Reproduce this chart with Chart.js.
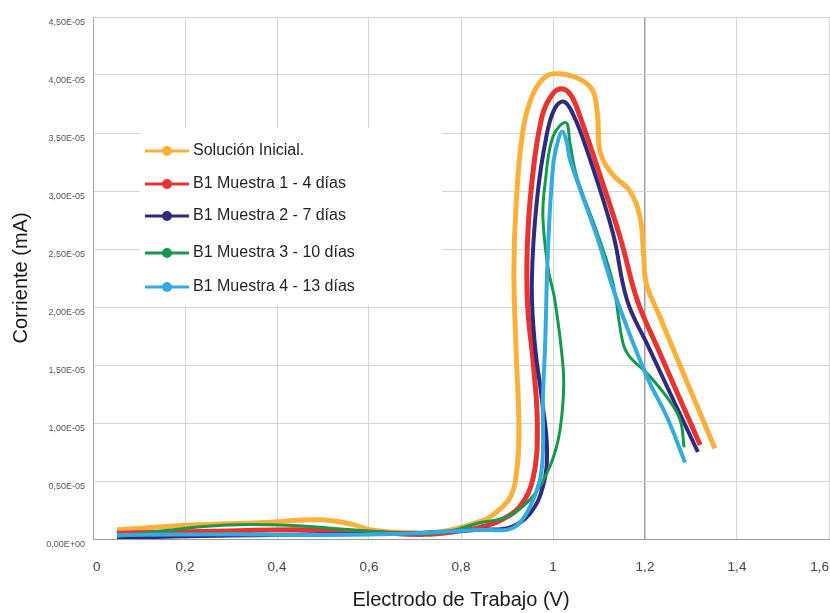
<!DOCTYPE html>
<html>
<head>
<meta charset="utf-8">
<script src="https://cdn.jsdelivr.net/npm/chart.js@4.4.0/dist/chart.umd.min.js"></script>
<style>
  html, body { margin: 0; padding: 0; background: #fff; }
  #wrap { width: 830px; height: 613px; }
</style>
</head>
<body>
<div id="wrap"><canvas id="cv" width="830" height="613"></canvas></div>
<script>
// current values are in units of 1E-05
const UNIT = 1e-5;

const seriesNames = [
  'Solución Inicial.',
  'B1 Muestra 1 - 4 días',
  'B1 Muestra 2 - 7 días',
  'B1 Muestra 3 - 10 días',
  'B1 Muestra 4 - 13 días'
];
const seriesColors = ['#FBB03B', '#E8332F', '#2E2A80', '#16994A', '#33ABE0'];
const lineWidths = [5, 5, 4, 3, 4];

const solX = [0.052, 0.217, 0.363, 0.493, 0.56, 0.602, 0.652, 0.75, 0.841, 0.87, 0.907, 0.922, 0.926, 0.92, 0.915, 0.92, 0.935, 0.957, 0.985, 1.015, 1.06, 1.087, 1.097, 1.103, 1.13, 1.167, 1.189, 1.197, 1.203, 1.233, 1.259, 1.352];
const solY = [0.08, 0.12, 0.14, 0.165, 0.13, 0.08, 0.06, 0.06, 0.15, 0.21, 0.36, 0.62, 0.97, 1.6, 2.3, 2.9, 3.53, 3.84, 3.99, 4.01, 3.96, 3.86, 3.64, 3.33, 3.14, 3.0, 2.78, 2.45, 2.2, 1.91, 1.66, 0.78];

const m1X = [0.052, 0.3, 0.45, 0.6, 0.72, 0.8, 0.841, 0.885, 0.928, 0.957, 0.966, 0.958, 0.945, 0.944, 0.954, 0.976, 1.0, 1.022, 1.04, 1.059, 1.096, 1.146, 1.183, 1.226, 1.32];
const m1Y = [0.05, 0.07, 0.08, 0.06, 0.04, 0.07, 0.10, 0.16, 0.28, 0.53, 0.97, 1.48, 2.0, 2.5, 3.07, 3.64, 3.84, 3.88, 3.82, 3.64, 3.21, 2.6, 2.06, 1.66, 0.81];

const m2X = [0.052, 0.3, 0.5, 0.7, 0.841, 0.907, 0.95, 0.978, 0.987, 0.976, 0.96, 0.954, 0.965, 0.987, 1.005, 1.024, 1.045, 1.074, 1.13, 1.161, 1.207, 1.315];
const m2Y = [0.01, 0.03, 0.04, 0.05, 0.08, 0.10, 0.22, 0.45, 0.77, 1.2, 1.7, 2.21, 2.92, 3.5, 3.72, 3.77, 3.65, 3.35, 2.64, 2.06, 1.66, 0.75];

const m3X = [0.052, 0.15, 0.29, 0.4, 0.5, 0.62, 0.75, 0.841, 0.9, 0.95, 0.987, 1.011, 1.022, 1.022, 1.004, 0.989, 0.978, 0.983, 1.0, 1.028, 1.037, 1.052, 1.096, 1.13, 1.152, 1.167, 1.204, 1.248, 1.276, 1.285];
const m3Y = [0.02, 0.07, 0.12, 0.12, 0.10, 0.06, 0.05, 0.14, 0.19, 0.34, 0.57, 0.85, 1.2, 1.48, 2.06, 2.34, 2.78, 3.07, 3.47, 3.59, 3.41, 3.12, 2.64, 2.21, 1.69, 1.57, 1.43, 1.22, 1.03, 0.79];

const m4X = [0.052, 0.3, 0.5, 0.7, 0.841, 0.9, 0.928, 0.957, 0.976, 0.978, 0.983, 0.989, 1.0, 1.01, 1.02, 1.03, 1.037, 1.096, 1.139, 1.204, 1.248, 1.287];
const m4Y = [0.035, 0.04, 0.035, 0.05, 0.08, 0.08, 0.14, 0.34, 0.62, 1.2, 1.69, 2.49, 3.21, 3.42, 3.51, 3.42, 3.27, 2.6, 2.06, 1.4, 1.05, 0.66];

const xSeries = [solX, m1X, m2X, m3X, m4X];
const ySeries = [solY, m1Y, m2Y, m3Y, m4Y];
const drawOrder = [4, 3, 2, 1, 0];

const FONT = '"Liberation Sans", Arial, sans-serif';

const datasets = seriesNames.map((name, i) => ({
  label: name,
  data: xSeries[i].map((x, j) => ({ x: x, y: ySeries[i][j] * UNIT })),
  showLine: true,
  borderColor: seriesColors[i],
  backgroundColor: seriesColors[i],
  borderWidth: lineWidths[i],
  pointRadius: 0,
  tension: 0.4,
  order: drawOrder[i]
}));

// legend box inside the plot, drawn over the grid but under the lines
const boxLegend = {
  id: 'boxLegend',
  beforeDatasetsDraw(chart) {
    const ctx = chart.ctx;
    const rows = [151, 184, 216, 253, 287];
    ctx.save();
    ctx.fillStyle = '#ffffff';
    ctx.fillRect(140, 128, 302, 177);
    chart.data.datasets.forEach((ds, i) => {
      const y = rows[i];
      ctx.strokeStyle = ds.borderColor;
      ctx.lineWidth = 3;
      ctx.beginPath();
      ctx.moveTo(145, y);
      ctx.lineTo(189, y);
      ctx.stroke();
      ctx.fillStyle = ds.borderColor;
      ctx.beginPath();
      ctx.arc(167, y, 5, 0, Math.PI * 2);
      ctx.fill();
      ctx.fillStyle = '#231f20';
      ctx.font = '16px ' + FONT;
      ctx.textBaseline = 'middle';
      ctx.fillText(ds.label, 193, y);
    });
    ctx.restore();
  }
};

new Chart(document.getElementById('cv'), {
  type: 'scatter',
  data: { datasets },
  plugins: [boxLegend],
  options: {
    responsive: false,
    animation: false,
    layout: { padding: { top: 17, right: 1, left: 0, bottom: 0 } },
    plugins: { legend: { display: false }, tooltip: { enabled: false } },
    scales: {
      x: {
        type: 'linear',
        min: 0,
        max: 1.6,
        ticks: {
          stepSize: 0.2,
          align: 'inner',
          padding: 20,
          color: '#444',
          font: { family: FONT, size: 13.5 },
          callback: v => (Math.round(v * 10) / 10).toString().replace('.', ',')
        },
        grid: {
          drawTicks: false,
          color: c => (c.tick && Math.abs(c.tick.value - 1.2) < 1e-6) ? '#a0a0a0' : '#d4d4d4',
          lineWidth: c => (c.tick && Math.abs(c.tick.value - 1.2) < 1e-6) ? 1.5 : 1
        },
        border: { color: '#9a9a9a' },
        title: {
          display: true,
          text: 'Electrodo de Trabajo (V)',
          color: '#1a1a1a',
          font: { family: FONT, size: 20 },
          padding: { top: 4, bottom: 1 }
        },
        afterFit: s => { s.height = 74; s.paddingLeft = 0; s.paddingRight = 0; }
      },
      y: {
        min: 0,
        max: 4.5 * UNIT,
        ticks: {
          stepSize: 0.5 * UNIT,
          padding: 8,
          labelOffset: 6,
          color: '#555',
          font: { family: FONT, size: 9 },
          callback: v => v === 0 ? '0,00E+00' : (v / UNIT).toFixed(2).replace('.', ',') + 'E-05'
        },
        grid: { drawTicks: false, color: '#d4d4d4' },
        border: { color: '#a8a8a8' },
        title: {
          display: true,
          text: 'Corriente (mA)',
          color: '#1a1a1a',
          font: { family: FONT, size: 20 },
          padding: { top: 9, bottom: 0 }
        },
        afterFit: s => { s.width = 93; s.paddingTop = 0; s.paddingBottom = 0; }
      }
    }
  }
});
</script>
</body>
</html>
